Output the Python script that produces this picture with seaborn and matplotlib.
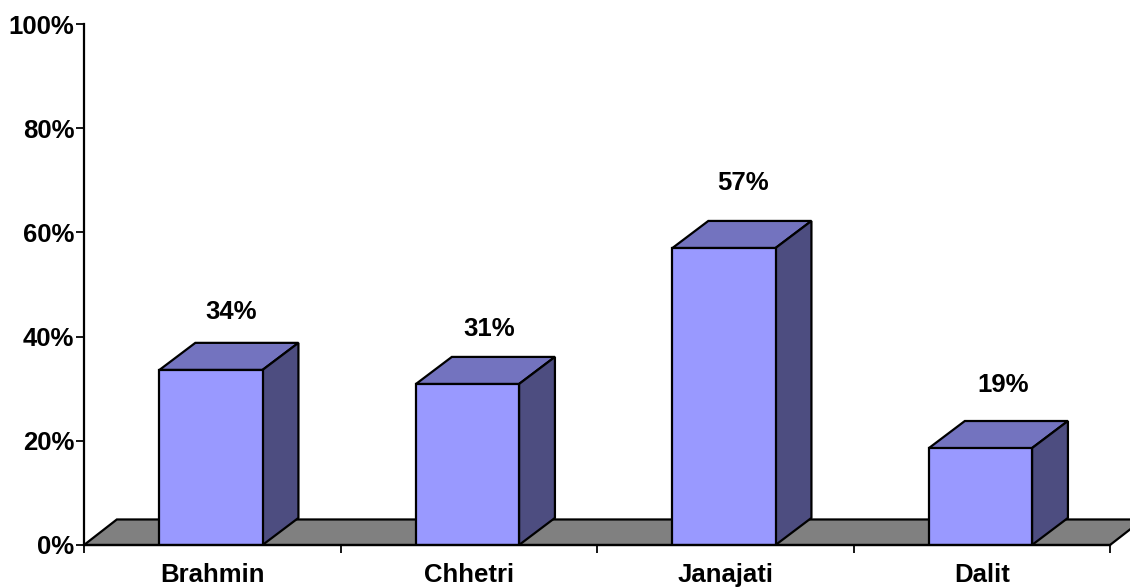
import matplotlib
matplotlib.use("Agg")
import matplotlib.pyplot as plt
import pandas as pd
import seaborn as sns

categories = ['Brahmin', 'Chhetri', 'Janajati', 'Dalit']
values = [33.6, 30.9, 57.0, 18.6]
y_ticks = [0, 20, 40, 60, 80, 100]

sns.set_theme(style="white")
plt.rcParams['font.family'] = ['Liberation Sans', 'DejaVu Sans']

df = pd.DataFrame({'group': categories, 'share': values})

fig = plt.figure(figsize=(11.3, 5.88), dpi=100)
ax = fig.add_axes([84 / 1130, 43 / 588, 1026 / 1130, 521 / 588])

FRONT = '#9999ff'
TOP = '#7373bf'
SIDE = '#4d4d80'
FLOOR = '#808080'
LW = 1.6
FS = 18.5
dx, dy = 0.14, 5.2  # fake 3d depth, in data units

sns.barplot(data=df, x='group', y='share', color=FRONT, saturation=1,
            width=0.402, edgecolor='black', linewidth=LW, ax=ax, zorder=3)
ax.set_xlim(-0.5, 3.5)
ax.set_ylim(0, 100)

# floor
ax.fill([-0.5, 3.5, 3.5 + 0.128, -0.5 + 0.128], [0, 0, 4.9, 4.9], facecolor=FLOOR,
        edgecolor='black', linewidth=LW, clip_on=False, zorder=1)

# top and side of each bar
for bar in ax.patches[:len(values)]:
    bar.set_x(bar.get_x() - 0.005)
    x0 = bar.get_x()
    x1 = x0 + bar.get_width()
    h = bar.get_height()
    ax.fill([x0, x1, x1 + dx, x0 + dx], [h, h, h + dy, h + dy], facecolor=TOP,
            edgecolor='black', linewidth=LW, zorder=2)
    ax.fill([x1, x1 + dx, x1 + dx, x1], [0, dy, h + dy, h], facecolor=SIDE,
            edgecolor='black', linewidth=LW, zorder=2)

# value labels, Excel puts them a bit unevenly above the bars
gaps = [5.9, 5.4, 7.3, 6.9]
nudge = [-0.008, 0.0, -0.012, 0.004]
for i, v in enumerate(values):
    ax.text(i + dx / 2 + 0.01 + nudge[i], v + dy + gaps[i], f"{round(v)}%", ha='center', va='center',
            fontsize=FS, fontweight='bold', color='black', zorder=4)

ax.set_yticks(y_ticks)
ax.set_yticklabels([f"{t}%" for t in y_ticks], fontsize=FS, fontweight='bold', color='black')
ax.set_xticks(range(len(categories)))
ax.set_xticklabels(categories, fontsize=FS, fontweight='bold', color='black')
ax.set_xticks([-0.5, 0.5, 1.5, 2.5, 3.5], minor=True)
ax.tick_params(axis='x', which='major', length=0, pad=13)
ax.tick_params(axis='x', which='minor', length=6, width=LW * 0.8, color='black', bottom=True)
ax.tick_params(axis='y', length=6, width=LW * 0.8, color='black', left=True, pad=1)
ax.set_xlabel("")
ax.set_ylabel("")

sns.despine(ax=ax, top=True, right=True)
for side in ['left', 'bottom']:
    ax.spines[side].set_color('black')
    ax.spines[side].set_linewidth(LW)
    ax.spines[side].set_zorder(5)

fig.savefig("out.png", dpi=100)
